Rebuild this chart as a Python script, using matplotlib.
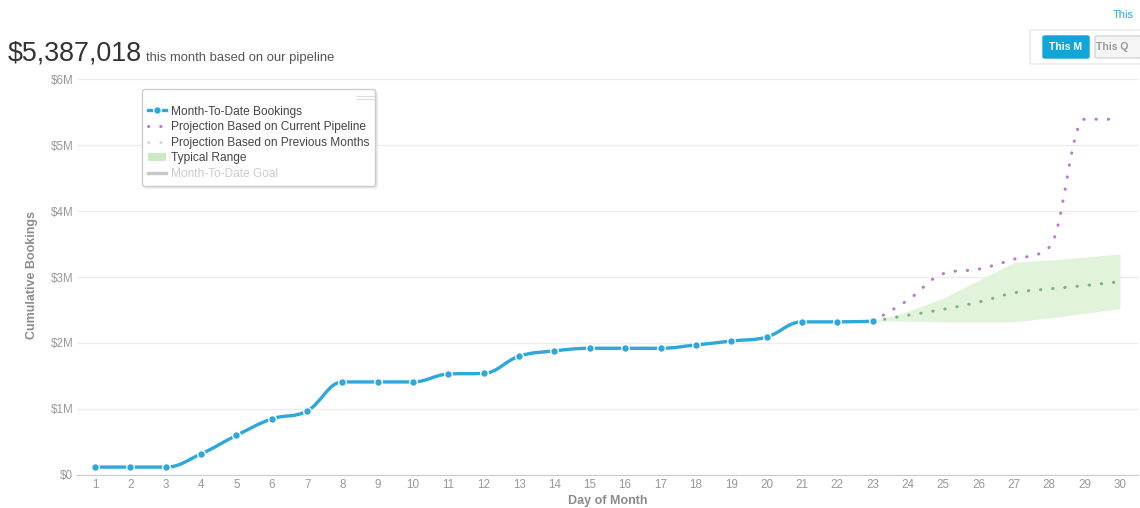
import matplotlib
matplotlib.use('Agg')
import matplotlib.pyplot as plt
from matplotlib.path import Path
from matplotlib.patches import PathPatch, Patch, FancyBboxPatch
from matplotlib.lines import Line2D
from matplotlib.ticker import FuncFormatter

plt.rcParams['font.family'] = ['Liberation Sans', 'DejaVu Sans']

# values in $M
days = list(range(1, 24))
bookings = [0.12, 0.12, 0.12, 0.32, 0.60, 0.85, 0.97, 1.41, 1.41, 1.41, 1.53, 1.54,
            1.80, 1.88, 1.92, 1.92, 1.92, 1.97, 2.03, 2.09, 2.32, 2.32, 2.33]

proj_days = list(range(23, 31))
proj_pipeline = [2.33, 2.65, 3.05, 3.12, 3.27, 3.45, 5.39, 5.39]
proj_previous = [2.33, 2.42, 2.51, 2.62, 2.76, 2.82, 2.87, 2.93]
range_low = [2.33, 2.33, 2.32, 2.32, 2.32, 2.38, 2.45, 2.52]
range_high = [2.33, 2.48, 2.68, 2.95, 3.22, 3.26, 3.30, 3.35]

x_ticks = list(range(1, 31))
y_ticks = [0, 1, 2, 3, 4, 5, 6]

BLUE = '#2ea7dd'
PINK = '#b977cd'
GREEN = '#77b677'
BAND = '#e2f3dc'
GREY = '#999999'


def spline_path(xs, ys):
    # highcharts style spline: control points 1.5/2.5 with clamping
    n = len(xs)
    lc = [(xs[i], ys[i]) for i in range(n)]
    rc = [(xs[i], ys[i]) for i in range(n)]
    for i in range(1, n - 1):
        px, py = xs[i - 1], ys[i - 1]
        x, y = xs[i], ys[i]
        nx, ny = xs[i + 1], ys[i + 1]
        lx, ly = (1.5 * x + px) / 2.5, (1.5 * y + py) / 2.5
        rx, ry = (1.5 * x + nx) / 2.5, (1.5 * y + ny) / 2.5
        corr = ((ry - ly) * (rx - x)) / (rx - lx) + y - ry
        ly += corr
        ry += corr
        if ly > py and ly > y:
            ly = max(py, y)
            ry = 2 * y - ly
        elif ly < py and ly < y:
            ly = min(py, y)
            ry = 2 * y - ly
        if ry > ny and ry > y:
            ry = max(ny, y)
            ly = 2 * y - ry
        elif ry < ny and ry < y:
            ry = min(ny, y)
            ly = 2 * y - ry
        lc[i] = (lx, ly)
        rc[i] = (rx, ry)
    verts = [(xs[0], ys[0])]
    codes = [Path.MOVETO]
    for i in range(1, n):
        verts += [rc[i - 1], lc[i], (xs[i], ys[i])]
        codes += [Path.CURVE4] * 3
    return Path(verts, codes)


fig = plt.figure(figsize=(11.4, 5.08), dpi=100)
ax = fig.add_axes([77.4 / 1140, 33 / 508, 1060.2 / 1140, 396 / 508])

ax.fill_between(proj_days, range_low, range_high, color=BAND, lw=0, zorder=1)

dots = (0, (0.1, 3.9))
ax.add_patch(PathPatch(spline_path(proj_days, proj_previous), fill=False, ec=GREEN,
                       lw=2.2, linestyle=dots, capstyle='round', zorder=2))
ax.add_patch(PathPatch(spline_path(proj_days, proj_pipeline), fill=False, ec=PINK,
                       lw=2.2, linestyle=dots, capstyle='round', zorder=3))
ax.add_patch(PathPatch(spline_path(days, bookings), fill=False, ec=BLUE,
                       lw=2.4, capstyle='round', zorder=4))
ax.plot(days, bookings, 'o', ms=5.6, mfc=BLUE, mec='white', mew=1, zorder=5)

ax.set_xlim(0.5, 30.5)
ax.set_ylim(0, 6)
ax.set_xticks(x_ticks)
ax.set_yticks(y_ticks)
ax.yaxis.set_major_formatter(FuncFormatter(lambda v, p: '$0' if v == 0 else f'${v:.0f}M'))
ax.tick_params(length=0, labelsize=8.4, labelcolor=GREY)
ax.tick_params(axis='y', pad=3)
ax.tick_params(axis='x', pad=3)
ax.grid(axis='y', color='#ececec', lw=1)
ax.set_axisbelow(True)
for s in ['top', 'right', 'left']:
    ax.spines[s].set_visible(False)
ax.spines['bottom'].set_color('#c8ccd0')

fig.text(32 / 1140, 1 - 275 / 508, 'Cumulative Bookings', rotation=90, ha='center',
         va='center', fontsize=9, fontweight='bold', color='#8c8c8c')
fig.text(608 / 1140, 1 - 501 / 508, 'Day of Month', ha='center', va='center',
         fontsize=9, fontweight='bold', color='#8c8c8c')

# header
fig.text(8 / 1140, 1 - 61 / 508, '$5,387,018', fontsize=19.4, color='#333333', va='baseline')
fig.text(146 / 1140, 1 - 61 / 508, 'this month based on our pipeline', fontsize=9.4,
         color='#555555', va='baseline')
fig.text(1113 / 1140, 1 - 18 / 508, 'This', fontsize=8, color='#29a9de', va='baseline')


def fig_box(x0, y0, x1, y1, fc, ec):
    fig.add_artist(FancyBboxPatch((x0 / 1140, 1 - y1 / 508), (x1 - x0) / 1140, (y1 - y0) / 508,
                                  boxstyle='round,pad=0,rounding_size=0.002',
                                  transform=fig.transFigure, fc=fc, ec=ec, lw=1))


fig_box(1030, 30, 1141, 64, 'white', '#e8e8e8')
fig_box(1043, 36, 1089, 58, '#12a5d9', '#12a5d9')
fig_box(1095, 36, 1141, 58, '#f5f5f5', '#d6d6d6')
fig.text(1066 / 1140, 1 - 47 / 508, 'This M', ha='center', va='center', fontsize=7.5,
         fontweight='bold', color='white')
fig.text(1112 / 1140, 1 - 47 / 508, 'This Q', ha='center', va='center', fontsize=7.5,
         fontweight='bold', color='#9a9a9a')

# legend
handles = [
    Line2D([], [], color=BLUE, lw=2.4, marker='o', ms=5.6, mec='white', mew=1),
    Line2D([], [], color=PINK, lw=2.2, linestyle=dots, dash_capstyle='round'),
    Line2D([], [], color='#d4dcd4', lw=2.2, linestyle=dots, dash_capstyle='round'),
    Patch(fc='#cbe9c3', ec='none'),
    Line2D([], [], color='#c8c8c8', lw=2.4),
]
labels = ['Month-To-Date Bookings', 'Projection Based on Current Pipeline',
          'Projection Based on Previous Months', 'Typical Range', 'Month-To-Date Goal']
leg = ax.legend(handles, labels, loc='upper left', bbox_to_anchor=(142 / 1140, 1 - 89 / 508),
                bbox_transform=fig.transFigure, borderaxespad=0, fontsize=8.6,
                handlelength=1.5, handletextpad=0.4, labelspacing=0.3, borderpad=0.5,
                title=' ', title_fontsize=5,
                fancybox=True, framealpha=1, edgecolor='#cccccc',
                shadow={'ox': 1.5, 'oy': -1.5, 'color': '#e8e8e8', 'alpha': 1})
leg.get_frame().set_linewidth(1)
for t, c in zip(leg.get_texts(), ['#444444'] * 4 + ['#cccccc']):
    t.set_color(c)
for yy in (96, 99):
    fig.add_artist(Line2D([357 / 1140, 374 / 1140], [1 - yy / 508] * 2, color='#dddddd',
                          lw=0.8, transform=fig.transFigure, zorder=10))

fig.savefig('out.png', dpi=100)
